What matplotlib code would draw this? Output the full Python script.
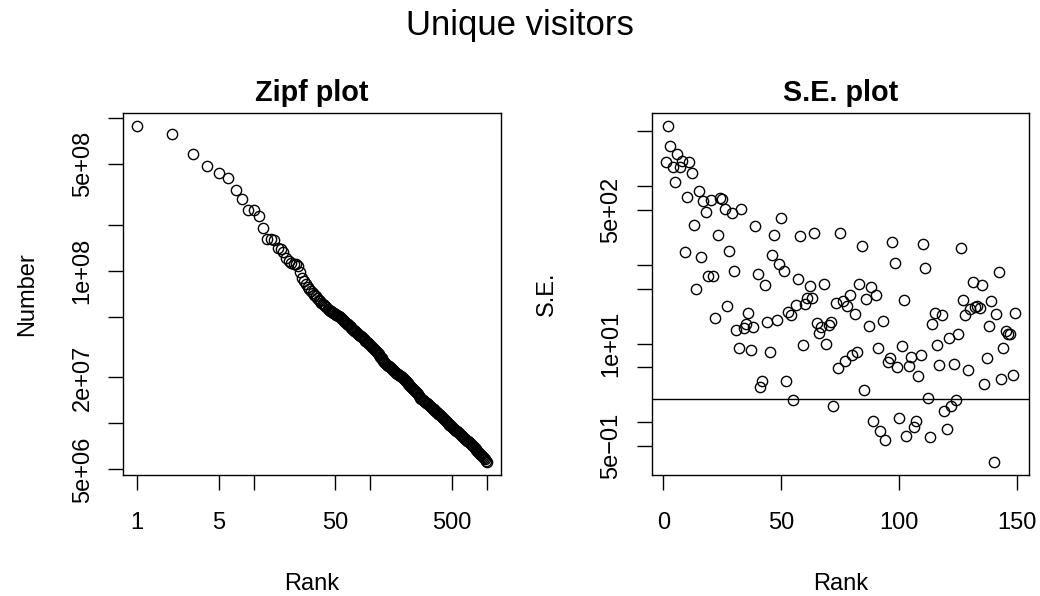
import matplotlib
matplotlib.use("Agg")
import matplotlib.pyplot as plt
import numpy as np

plt.rcParams['font.family'] = ['Liberation Sans', 'DejaVu Sans']

# ---------------- data ----------------
zipf_rank = [1, 2, 3, 4, 5, 6, 7, 8, 9, 10, 11, 12, 13, 14, 15, 16, 17, 18, 19, 20,
             21, 22, 23, 24, 25, 26, 27, 28, 29, 30, 31, 32, 33, 34, 35, 36, 37, 38, 39, 40,
             41, 42, 43, 44, 45, 46, 47, 48, 49, 50, 51, 52, 53, 54, 55, 56, 57, 58, 59, 60,
             61, 62,
             63, 64, 65, 67, 68, 69, 70, 72, 73, 74, 76, 77, 79, 80, 82, 83, 85, 86, 88, 90,
             91, 93, 95, 96, 98, 100, 102, 104, 106, 108, 110, 112, 114, 116, 118, 120, 122, 125, 127, 129,
             132, 134, 137, 139, 142, 145, 147, 150, 153, 156, 158, 161, 164, 167, 171, 174, 177, 180, 184, 187,
             191, 194, 198, 201, 205, 209, 213, 217, 221, 225, 229, 233, 238, 242, 247, 251, 256, 261, 265, 270,
             275, 281, 286, 291, 296, 302, 308, 313, 319, 325, 331, 337, 344, 350, 356, 363, 370, 377, 384, 391,
             398, 406, 413, 421, 429, 437, 445, 453, 461, 470, 479, 488, 497, 506, 515, 525, 535, 545, 555, 565,
             575, 586, 597, 608, 619, 631, 643, 655, 667, 679, 692, 705, 718, 731, 745, 759, 773, 787, 802, 817,
             832, 847, 863, 879, 895, 912, 929, 946, 964, 982, 1000]
# unique visitors, millions
zipf_number_m = [887, 793, 586, 484, 438, 408, 339, 297, 252, 250, 227, 191, 161, 161, 160, 142, 139, 132, 122, 116,
                 112, 111, 111, 107, 97.7, 90.2, 86.1, 82.2, 78.5, 75.9, 73.7, 71.7, 69.7, 67.9, 66.2, 64.6, 63.1, 61.9, 60.7, 59.6,
                 58.5, 57.5, 56.5, 55.6, 54.7, 54.1, 53.6, 53.1, 52.6, 52.1, 51.6, 51.1, 50.7, 50.2, 49.6, 48.9, 48.3, 47.8, 47.2, 46.6,
                 46.1, 45.6,
                 45.0, 44.5, 43.9, 43.3, 42.8, 42.2, 41.7, 41.1, 40.6, 40.1, 39.6, 39.0, 38.5, 38.0, 37.5, 37.1, 36.6, 36.1, 35.6, 35.2,
                 34.7, 34.3, 33.8, 33.4, 32.9, 32.5, 32.1, 31.7, 31.2, 30.7, 30.2, 29.8, 29.3, 28.9, 28.4, 28.0, 27.4, 26.9, 26.4, 25.8,
                 25.3, 24.8, 24.5, 24.2, 23.9, 23.6, 23.4, 23.1, 22.8, 22.5, 22.3, 22.0, 21.7, 21.5, 21.2, 21.0, 20.7, 20.5, 20.3, 20.0,
                 19.8, 19.6, 19.3, 19.1, 18.8, 18.5, 18.2, 17.9, 17.6, 17.3, 17.0, 16.8, 16.5, 16.2, 16.0, 15.7, 15.5, 15.2, 15.0, 14.7,
                 14.5, 14.3, 14.2, 14.0, 13.8, 13.7, 13.5, 13.3, 13.2, 13.0, 12.8, 12.7, 12.5, 12.4, 12.2, 12.1, 11.9, 11.8, 11.6, 11.5,
                 11.4, 11.2, 11.0, 10.9, 10.7, 10.5, 10.4, 10.2, 10.07, 9.94, 9.81, 9.69, 9.57, 9.45, 9.33, 9.21, 9.09, 8.98, 8.87, 8.75,
                 8.64, 8.53, 8.43, 8.32, 8.22, 8.11, 8.01, 7.91, 7.81, 7.71, 7.61, 7.52, 7.42, 7.33, 7.24, 7.14, 7.05, 6.94, 6.83, 6.72,
                 6.61, 6.50, 6.40, 6.30, 6.20, 6.10, 6.00, 5.90, 5.81, 5.71, 5.62]

se_rank = [1, 2, 3, 4, 5, 6, 7, 8, 9, 10, 11, 12, 13, 14, 15, 16, 17, 18, 19, 20,
           21, 22, 23, 24, 25, 26, 27, 28, 29, 30, 31, 32, 33, 34, 35, 36, 37, 38, 39, 40,
           41, 42, 43, 44, 45, 46, 47, 48, 49, 50, 51, 52, 53, 54, 55, 56, 57, 58, 59, 60,
           61, 62, 63, 64, 65, 66, 67, 68, 69, 70, 71, 72, 73, 74, 75, 76, 77, 78, 79, 80,
           81, 82, 83, 84, 85, 86, 87, 88, 89, 90, 91, 92, 93, 94, 95, 96, 97, 98, 99, 100,
           101, 102, 103, 104, 105, 106, 107, 108, 109, 110, 111, 112, 113, 114, 115, 116, 117, 118, 119, 120,
           121, 122, 123, 124, 125, 126, 127, 128, 129, 130, 131, 132, 133, 134, 135, 136, 137, 138, 139, 140,
           141, 142, 143, 144, 145, 146, 147, 148, 149]
se_value = [2040, 5790, 3220, 1730, 1135, 2530, 1760, 2100, 146, 731,
            2000, 1490, 326, 49.1, 873, 126, 651, 472, 72.5, 664,
            72.5, 21.2, 243, 718, 684, 510, 29.9, 149, 463, 83.0,
            14.8, 8.89, 510, 16.0, 17.6, 24.5, 8.39, 16.3, 310, 77.6,
            2.81, 3.35, 56.2, 18.8, 7.84, 133, 243, 19.8, 102, 395,
            83.0, 3.32, 25.3, 22.9, 1.91, 30.7, 67.0, 234, 9.71, 32.2,
            38.4, 53.6, 38.4, 255, 18.3, 13.7, 16.3, 56.8, 9.81, 17.1,
            18.8, 1.64, 32.9, 4.95, 255, 34.8, 6.02, 30.1, 41.1, 7.11,
            24.1, 7.84, 57.9, 173, 2.55, 37.3, 16.6, 52.5, 1.04, 41.6,
            8.89, 0.791, 19.2, 0.602, 5.79, 6.57, 196, 106, 5.05, 1.13,
            9.25, 36.2, 0.670, 5.15, 6.77, 0.873, 1.03, 3.95, 7.11, 187,
            92.5, 2.04, 0.651, 17.9, 24.5, 9.53, 5.41, 23.4, 1.38, 0.815,
            11.8, 1.60, 5.57, 1.91, 13.4, 166, 36.2, 23.4, 4.67, 27.9,
            60.8, 29.2, 29.9, 28.7, 55.2, 3.10, 6.64, 16.8, 34.8, 0.319,
            24.1, 81.5, 3.59, 8.89, 14.5, 13.2, 13.4, 4.04, 24.8]
se_ref_line = 1.96

zipf_xticks = [1, 5, 10, 50, 100, 500, 1000]
zipf_xticklabels = ["1", "5", "", "50", "", "500", ""]
zipf_yticks = [5e6, 1e7, 2e7, 5e7, 1e8, 2e8, 5e8, 1e9]
zipf_yticklabels = ["5e+06", "", "2e+07", "", "1e+08", "", "5e+08", ""]
se_xticks = [0, 50, 100, 150]
se_xticklabels = ["0", "50", "100", "150"]
se_yticks = [0.5, 1, 5, 10, 50, 100, 500, 1000, 5000]
se_yticklabels = ["5e\u221201", "", "", "1e+01", "", "", "5e+02", "", ""]

main_title = "Unique visitors"
titles = ["Zipf plot", "S.E. plot"]
xlabel = "Rank"
ylabels = ["Number", "S.E."]

# ---------------- layout ----------------
W, H = 1040, 596
fig = plt.figure(figsize=(W / 100, H / 100), dpi=100)

def box(x0, y0, x1, y1):
    return [x0 / W, 1 - y1 / H, (x1 - x0) / W, (y1 - y0) / H]

ax1 = fig.add_axes(box(123.3, 112.7, 500.7, 475))
ax2 = fig.add_axes(box(651.7, 112.7, 1029, 475))

def r_lim(vals, log=False):
    v = np.asarray(vals, dtype=float)
    if log:
        lo, hi = np.log10(v.min()), np.log10(v.max())
        pad = 0.04 * (hi - lo)
        return 10 ** (lo - pad), 10 ** (hi + pad)
    lo, hi = v.min(), v.max()
    pad = 0.04 * (hi - lo)
    return lo - pad, hi + pad

zipf_number = np.asarray(zipf_number_m) * 1e6

FS = 17
mk = dict(linestyle='none', marker='o', markersize=7.4, markerfacecolor='none',
          markeredgecolor='black', markeredgewidth=1.0)

ax1.plot(zipf_rank, zipf_number, **mk)
ax1.set_xscale('log')
ax1.set_yscale('log')
ax1.set_xlim(*r_lim(zipf_rank, log=True))
ax1.set_ylim(*r_lim(zipf_number, log=True))

ax2.plot(se_rank, se_value, **mk)
ax2.set_yscale('log')
ax2.set_xlim(*r_lim(se_rank))
ax2.set_ylim(*r_lim(se_value, log=True))
ax2.axhline(se_ref_line, color='black', linewidth=1.0)

ax1.set_xticks(zipf_xticks, zipf_xticklabels)
ax1.set_yticks(zipf_yticks, zipf_yticklabels)
ax2.set_xticks(se_xticks, se_xticklabels)
ax2.set_yticks(se_yticks, se_yticklabels)

for ax in (ax1, ax2):
    ax.minorticks_off()
    for s in ax.spines.values():
        s.set_linewidth(1.0)
        s.set_color('black')
    ax.tick_params(axis='both', which='major', direction='out', length=10.8,
                   width=1.0, labelsize=FS, colors='black')
    ax.tick_params(axis='x', pad=15.5)
    ax.tick_params(axis='y', pad=10.5)
    for lab in ax.get_yticklabels():
        lab.set_rotation(90)
        lab.set_va('center')
        lab.set_ha('right')

# texts
fig.text(0.5, 1 - 35 / H, main_title, ha='center', va='baseline', fontsize=25)
fig.text(312 / W, 1 - 101 / H, titles[0], ha='center', va='baseline', fontsize=20.7, fontweight='bold')
fig.text(840.3 / W, 1 - 101 / H, titles[1], ha='center', va='baseline', fontsize=20.7, fontweight='bold')
fig.text(312 / W, 1 - 590 / H, xlabel, ha='center', va='baseline', fontsize=FS)
fig.text(840.3 / W, 1 - 590 / H, xlabel, ha='center', va='baseline', fontsize=FS)
fig.text(33 / W, 1 - 293.9 / H, ylabels[0], ha='center', va='baseline', fontsize=FS,
         rotation=90, rotation_mode='anchor')
fig.text(553.3 / W, 1 - 293.9 / H, ylabels[1], ha='center', va='baseline', fontsize=FS,
         rotation=90, rotation_mode='anchor')

fig.savefig('out.png', dpi=100)
